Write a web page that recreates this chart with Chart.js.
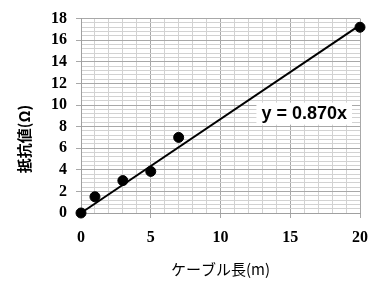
<!DOCTYPE html>
<html>
<head>
<meta charset="utf-8">
<script src="https://cdn.jsdelivr.net/npm/chart.js@4/dist/chart.umd.min.js"></script>
<style>
  html, body { margin: 0; padding: 0; background: #fff; }
  #wrap { width: 386px; height: 295px; }
</style>
</head>
<body>
<div id="wrap"><canvas id="grafico"></canvas></div>
<script>
// datos medidos
const cableLength = [0, 1, 3, 5, 7, 20];
const resistance = [0, 1.5, 3.0, 3.85, 7.0, 17.2];
const slope = 0.870;
const trendX = [0, 20];
const xTitle = 'ケーブル長(m)';
const yTitle = '抵抗値(Ω)';
const trendLabel = 'y = 0.870x';

const isMultiple = (v, step) => Math.abs(v / step - Math.round(v / step)) < 1e-6;

const tickFont = { family: 'Liberation Serif', size: 16, weight: 'bold' };

const extras = {
    id: 'extras',
    afterDraw(chart) {
        const ctx = chart.ctx;
        const xs = chart.scales.x, ys = chart.scales.y;
        // etiqueta de la recta
        ctx.save();
        ctx.font = 'bold 18px "Liberation Sans", Arial, sans-serif';
        const tx = xs.getPixelForValue(16), ty = ys.getPixelForValue(9.2);
        const w = ctx.measureText(trendLabel).width;
        ctx.fillStyle = '#fff';
        ctx.fillRect(tx - w / 2 - 5, ty - 11, w + 10, 22);
        ctx.fillStyle = '#000';
        ctx.textAlign = 'center';
        ctx.textBaseline = 'middle';
        ctx.fillText(trendLabel, tx, ty);
        ctx.restore();
        // titulo eje y
        ctx.save();
        ctx.translate(24, 139);
        ctx.rotate(-Math.PI / 2);
        ctx.font = 'bold 15px "Noto Sans CJK JP", sans-serif';
        ctx.fillStyle = '#000';
        ctx.textAlign = 'center';
        ctx.textBaseline = 'middle';
        ctx.fillText(yTitle, 0, 0);
        ctx.restore();
    }
};

const ctx = document.getElementById('grafico').getContext('2d');
new Chart(ctx, {
    type: 'scatter',
    data: {
        datasets: [
            {
                label: 'medidas',
                data: cableLength.map((x, i) => ({ x: x, y: resistance[i] })),
                backgroundColor: '#000',
                borderColor: '#000',
                pointRadius: 5,
                pointHoverRadius: 5,
                clip: false
            },
            {
                label: 'tendencia',
                type: 'line',
                data: trendX.map(x => ({ x: x, y: slope * x })),
                borderColor: '#000',
                borderWidth: 2,
                pointRadius: 0,
                fill: false,
                clip: false
            }
        ]
    },
    options: {
        responsive: true,
        maintainAspectRatio: false,
        animation: false,
        layout: { padding: { left: 0, right: 26, top: 17, bottom: 17 } },
        plugins: { legend: { display: false }, tooltip: { enabled: false } },
        scales: {
            x: {
                type: 'linear',
                min: 0,
                max: 20,
                afterFit: s => { s.height = 65; },
                border: { color: '#a0a0a0', width: 1 },
                grid: {
                    color: c => isMultiple(c.tick.value, 5) ? '#a8a8a8' : '#d2d2d2',
                    tickColor: c => isMultiple(c.tick.value, 5) ? '#a8a8a8' : 'rgba(0,0,0,0)',
                    tickLength: 5
                },
                ticks: {
                    stepSize: 1,
                    autoSkip: false,
                    maxRotation: 0,
                    padding: 10,
                    color: '#000',
                    font: tickFont,
                    callback: v => isMultiple(v, 5) ? String(v) : ''
                },
                title: {
                    display: true,
                    text: xTitle,
                    color: '#000',
                    font: { family: 'Noto Sans CJK JP', size: 15 },
                    padding: { top: 4, bottom: 0 }
                }
            },
            y: {
                type: 'linear',
                min: 0,
                max: 18,
                afterFit: s => { s.width = 81; },
                border: { color: '#a0a0a0', width: 1 },
                grid: {
                    color: c => isMultiple(c.tick.value, 2) ? '#a8a8a8' : '#d2d2d2',
                    tickColor: c => isMultiple(c.tick.value, 2) ? '#a8a8a8' : 'rgba(0,0,0,0)',
                    tickLength: 5
                },
                ticks: {
                    stepSize: 0.4,
                    autoSkip: false,
                    padding: 9,
                    color: '#000',
                    font: tickFont,
                    callback: v => isMultiple(v, 2) ? String(Math.round(v)) : ''
                }
            }
        }
    },
    plugins: [extras]
});
</script>
</body>
</html>
